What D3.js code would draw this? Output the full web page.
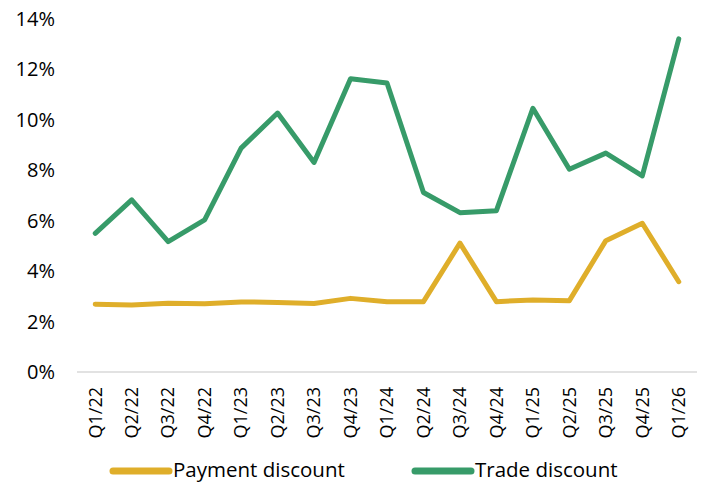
<!DOCTYPE html>
<html>
<head>
<meta charset="utf-8">
<script src="https://cdn.jsdelivr.net/npm/d3@7"></script>
<style>
  body { margin: 0; background: #fff; }
  text { font-family: "Open Sans", "Noto Sans", sans-serif; fill: #000; }
</style>
</head>
<body>
<div id="chart"></div>
<script>
var quarters = ["Q1/22","Q2/22","Q3/22","Q4/22","Q1/23","Q2/23","Q3/23","Q4/23",
                "Q1/24","Q2/24","Q3/24","Q4/24","Q1/25","Q2/25","Q3/25","Q4/25","Q1/26"];
var payment = [2.69, 2.66, 2.73, 2.71, 2.78, 2.76, 2.72, 2.92,
               2.79, 2.79, 5.11, 2.79, 2.86, 2.83, 5.21, 5.90, 3.58];
var trade = [5.50, 6.83, 5.17, 6.03, 8.88, 10.27, 8.31, 11.63,
             11.46, 7.12, 6.32, 6.40, 10.46, 8.04, 8.68, 7.78, 13.21];
var yTicks = [0, 2, 4, 6, 8, 10, 12, 14];
var seriesNames = ["Payment discount", "Trade discount"];
var colors = ["#dfae2a", "#379b69"];

var w = 706, h = 483;
var p = {"top": 19, "right": 9, "bottom": 111, "left": 77};

var svg = d3.select("#chart").append("svg")
  .attr("width", w)
  .attr("height", h)

var x = d3.scaleBand()
  .domain(quarters)
  .range([p.left, w - p.right])

var y = d3.scaleLinear()
  .domain([0, 14])
  .range([h - p.bottom, p.top])

// axis line at 0%
svg.append("line")
  .attr("x1", p.left).attr("x2", w - p.right)
  .attr("y1", y(0)).attr("y2", y(0))
  .attr("stroke", "#d9d9d9")
  .attr("stroke-width", 1.5)

// y labels
svg.selectAll(".ytick")
  .data(yTicks)
  .enter()
    .append("text")
      .attr("class", "ytick")
      .attr("x", 55)
      .attr("y", function(d){ return y(d) })
      .attr("dy", "0.35em")
      .attr("text-anchor", "end")
      .style("font-size", "20px")
      .text(function(d){ return d + "%" })

// x labels, rotated
svg.selectAll(".xtick")
  .data(quarters)
  .enter()
    .append("text")
      .attr("class", "xtick")
      .attr("transform", function(d){
        return "translate(" + (x(d) + x.bandwidth() / 2) + "," + 387 + ") rotate(-90)"
      })
      .attr("dy", "0.35em")
      .attr("text-anchor", "end")
      .style("font-size", "18px")
      .text(function(d){ return d })

var line = d3.line()
  .x(function(d, i){ return x(quarters[i]) + x.bandwidth() / 2 })
  .y(function(d){ return y(d) })

var all = [payment, trade];
svg.selectAll(".series")
  .data(all)
  .enter()
    .append("path")
      .attr("class", "series")
      .attr("d", line)
      .attr("fill", "none")
      .attr("stroke", function(d, i){ return colors[i] })
      .attr("stroke-width", 5)
      .attr("stroke-linejoin", "round")
      .attr("stroke-linecap", "round")

// legend
var legendX = [113, 415];
var legend = svg.selectAll(".legend")
  .data(seriesNames)
  .enter()
    .append("g")
      .attr("class", "legend")
      .attr("transform", function(d, i){ return "translate(" + legendX[i] + ",471)" })

legend.append("line")
  .attr("x1", 0).attr("x2", 56)
  .attr("stroke", function(d, i){ return colors[i] })
  .attr("stroke-width", 7)
  .attr("stroke-linecap", "round")

legend.append("text")
  .attr("x", 60)
  .attr("y", 6)
  .style("font-size", "20.5px")
  .text(function(d){ return d })
</script>
</body>
</html>
